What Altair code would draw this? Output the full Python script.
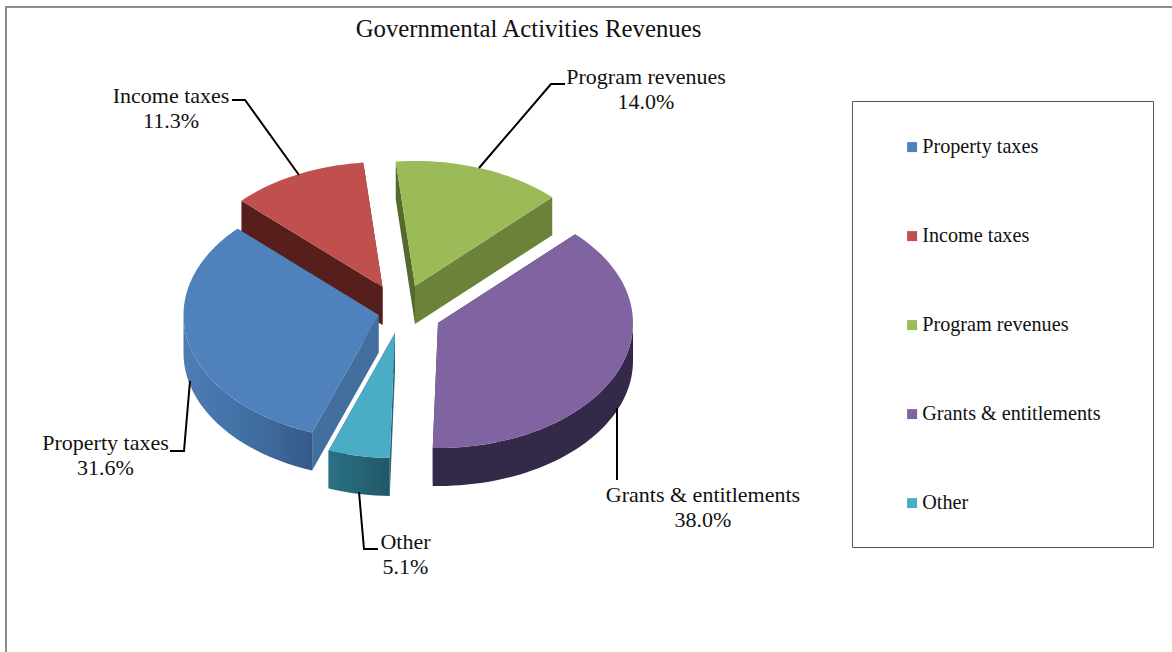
import math
import altair as alt
import pandas as pd

# Chart values, in legend order
names = ["Property taxes", "Income taxes", "Program revenues", "Grants & entitlements", "Other"]
shares = [31.6, 11.3, 14.0, 38.0, 5.1]
face_colors = ["#4F81BD", "#C0504D", "#9BBB59", "#8064A2", "#4BACC6"]

# Pie geometry (pixels)
RX, RY, DEPTH = 195, 125, 38
FIRST_ANGLE = 199.9
apex = {
    "Property taxes": (378.5, 315),
    "Income taxes": (382.5, 287),
    "Program revenues": (415, 286),
    "Grants & entitlements": (438, 323),
    "Other": (395, 333),
}
rim_stops = {
    "Property taxes": [("#4d7db3", 0), ("#4373a8", .35), ("#3f6c9f", .6), ("#355a88", 1)],
    "Income taxes": [("#561f1c", 0), ("#561f1c", 1)],
    "Program revenues": [("#6c8239", 0), ("#6c8239", 1)],
    "Grants & entitlements": [("#35294a", 0), ("#35294a", 1)],
    "Other": [("#2a7084", 0), ("#215868", 1)],
}
side_colors = {
    "Property taxes": ("#436f9f", "#436f9f"),
    "Income taxes": ("#561f1c", "#561f1c"),
    "Program revenues": ("#556b2c", "#6c8239"),
    "Grants & entitlements": ("#35294a", "#35294a"),
    "Other": ("#256778", "#256778"),
}
draw_order = ["Income taxes", "Program revenues", "Grants & entitlements", "Property taxes", "Other"]

# Label text anchors and leader lines
label_pos = {
    "Property taxes": (105.5, 443),
    "Income taxes": (171, 96),
    "Program revenues": (646, 77),
    "Grants & entitlements": (703, 495),
    "Other": (405.5, 542),
}
leaders = {
    "Property taxes": [(170, 451), (184, 451), (190, 381)],
    "Income taxes": [(232, 100), (245, 100), (299, 175)],
    "Program revenues": [(565, 84), (551, 84), (479, 168)],
    "Grants & entitlements": [(617, 408), (617, 480)],
    "Other": [(378, 549), (364, 549), (359, 492)],
}

X = alt.X("x:Q", scale=alt.Scale(domain=[0, 1172], range=[0, 1172]), axis=None)
Y = alt.Y("y:Q", scale=alt.Scale(domain=[0, 652], range=[0, 652]), axis=None)
FONT = "Liberation Serif"


def spans():
    """Start and end angle of each slice, clockwise from twelve o'clock."""
    out, a = {}, FIRST_ANGLE
    for n, s in zip(names, shares):
        out[n] = (a, a + s * 3.6)
        a += s * 3.6
    return out


def rim(name, deg, drop=0):
    ax, ay = apex[name]
    t = math.radians(deg)
    return (ax + RX * math.sin(t), ay - RY * math.cos(t) + drop)


def polygon(points, **mark):
    df = pd.DataFrame({"x": [p[0] for p in points], "y": [p[1] for p in points],
                       "i": range(len(points))})
    return alt.Chart(df).mark_line(strokeWidth=0, interpolate="linear", **mark).encode(
        x=X, y=Y, order="i:Q")


def arc_points(name, a0, a1, drop=0):
    n = max(2, int(abs(a1 - a0) / 2))
    return [rim(name, a0 + (a1 - a0) * k / n, drop) for k in range(n + 1)]


layers = []
span = spans()
color_scale = alt.Scale(domain=names, range=face_colors)

# Side walls are painted first, slice by slice, so nearer parts cover farther ones
for n in draw_order:
    a0, a1 = span[n]
    ax, ay = apex[n]
    for ang, col in zip((a0, a1), side_colors[n]):
        p = rim(n, ang)
        q = rim(n, ang, DEPTH)
        layers.append(polygon([(ax, ay), p, q, (ax, ay + DEPTH)], fill=col))
    # Outer wall: only the part of the rim that faces the viewer
    lo, hi = max(a0, 90), min(a1, 270)
    if lo >= 270 or hi <= 90:
        lo, hi = max(a0 - 360, 90), min(a1 - 360, 270)
    if hi > lo:
        pts = arc_points(n, lo, hi) + arc_points(n, hi, lo, DEPTH)
        grad = alt.LinearGradient(
            gradient="linear", x1=0, x2=1, y1=0, y2=0,
            stops=[alt.GradientStop(color=c, offset=o) for c, o in rim_stops[n]])
        layers.append(polygon(pts, fill=grad))
    # Top face carries the colour encoding and therefore the legend
    face = [(ax, ay)] + arc_points(n, a0, a1)
    df = pd.DataFrame({"x": [p[0] for p in face], "y": [p[1] for p in face],
                       "i": range(len(face)), "name": n})
    layers.append(alt.Chart(df).mark_line(strokeWidth=0).encode(
        x=X, y=Y, order="i:Q",
        fill=alt.Fill("name:N", scale=color_scale, legend=alt.Legend(
            title=None, orient="none", legendX=902, legendY=137, values=names,
            symbolType="square", symbolSize=100, symbolStrokeWidth=0, symbolOpacity=1,
            labelFont=FONT, labelFontSize=20.2, labelColor="#111111", labelOffset=0,
            rowPadding=68, padding=0, labelLimit=300))))

# Leader lines
for n, pts in leaders.items():
    df = pd.DataFrame({"x": [p[0] for p in pts], "y": [p[1] for p in pts], "i": range(len(pts))})
    layers.append(alt.Chart(df).mark_line(color="black", strokeWidth=2).encode(x=X, y=Y, order="i:Q"))

# Data labels: name above value
rows = []
for n, s in zip(names, shares):
    lx, ly = label_pos[n]
    rows.append({"x": lx, "y": ly, "t": n})
    rows.append({"x": lx, "y": ly + 25, "t": f"{s:.1f}%"})
layers.append(alt.Chart(pd.DataFrame(rows)).mark_text(
    font=FONT, fontSize=22, color="#111111", align="center", baseline="middle").encode(
    x=X, y=Y, text="t:N"))

# Title
layers.append(alt.Chart(pd.DataFrame({"x": [528.5], "y": [30], "t": ["Governmental Activities Revenues"]})).mark_text(
    font=FONT, fontSize=24.8, color="#111111", align="center", baseline="middle").encode(
    x=X, y=Y, text="t:N"))

# Frames: the legend box and the chart's outer edge
layers.append(alt.Chart(pd.DataFrame({"x": [852.5], "x2": [1153.5], "y": [101.5], "y2": [547.5]})).mark_rect(
    fill=None, stroke="#555555", strokeWidth=1).encode(x=X, x2="x2:Q", y=Y, y2="y2:Q"))
edge = pd.DataFrame({"x": [6, 6, 1172], "y": [652, 7, 7], "i": [0, 1, 2]})
layers.append(alt.Chart(edge).mark_line(color="#8c8c8c", strokeWidth=2).encode(x=X, y=Y, order="i:Q"))

chart = alt.layer(*layers).properties(
    width=1172, height=652, padding=0,
    autosize=alt.AutoSizeParams(type="none"), background="white",
).configure_view(stroke=None)

chart.save("out.html", embed_options={"renderer": "svg", "actions": False})
